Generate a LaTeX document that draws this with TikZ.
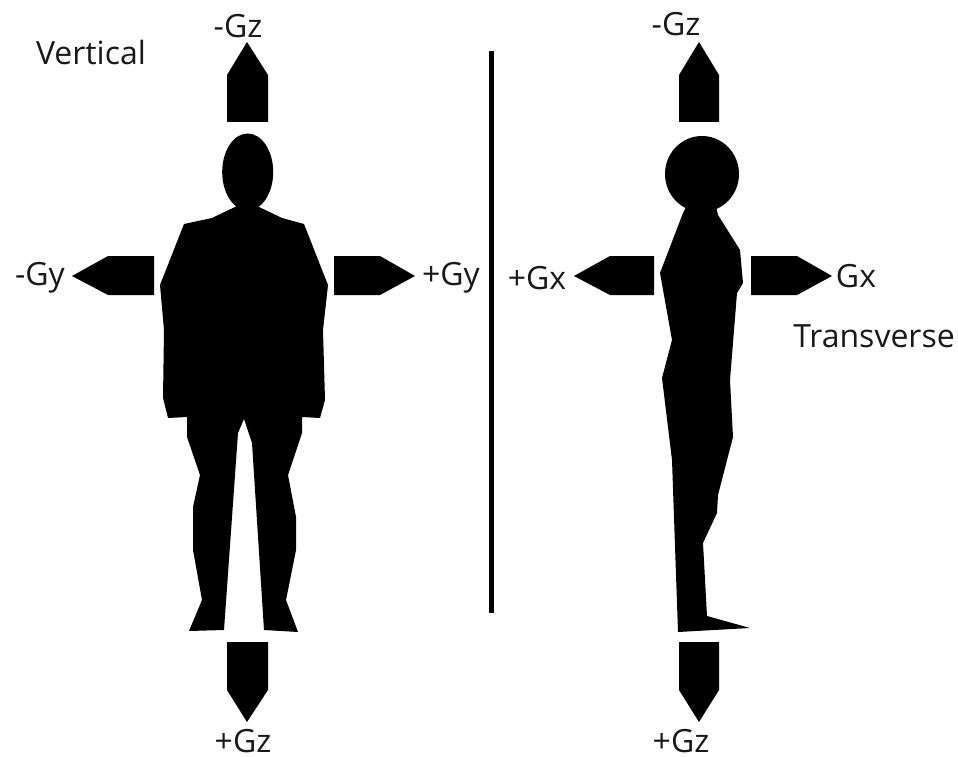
\documentclass[tikz,border=0pt]{standalone}
\usepackage{fontspec}
\setmainfont{Open Sans}
\tikzset{
  px/.style={x=1pt,y=-1pt},
  solid shape/.style={fill=black,draw=none},
  lbl/.style={inner sep=0pt,font=\fontsize{32}{35}\selectfont,text=black!90}
}
\begin{document}
\begin{tikzpicture}[px]
\useasboundingbox[fill=white] (0,0) rectangle (958,757);
% divider
\fill[black] (489,51) rectangle (493.5,613);
% arrows: left figure
\fill[solid shape] (227,122)--(268,122)--(268,75)--(247,42)--(227,75)--cycle;
\fill[solid shape] (227,642)--(268,642)--(268,690)--(247,722)--(227,690)--cycle;
\fill[solid shape] (154,256)--(154,295)--(108,295)--(72,276)--(108,256)--cycle;
\fill[solid shape] (334,256)--(334,295)--(380,295)--(415,276)--(380,256)--cycle;
% arrows: right figure
\fill[solid shape] (679,122)--(719,122)--(719,75)--(699,42)--(679,75)--cycle;
\fill[solid shape] (679,642)--(719,642)--(719,690)--(699,722)--(679,690)--cycle;
\fill[solid shape] (654,256)--(654,295)--(610,295)--(574,276)--(610,256)--cycle;
\fill[solid shape] (751,256)--(751,295)--(797,295)--(832,276)--(797,256)--cycle;
% front figure
\fill[solid shape] (247.7,172) ellipse [x radius=25.5,y radius=38.5];
\fill[solid shape] (237,206)--(212,218)--(184,224)--(160,285)--(164,330)--(163,398)--(168,418)--(187,417)
  --(187,437)--(200,475)--(193,507)--(193,550)--(202,600)--(189,631)--(224,630)--(238,433)--(244,419)
  --(252,443)--(264,630)--(298,632)--(286,600)--(296,550)--(296,517)--(288,475)--(302,433)--(302,417)
  --(320,418)--(325,400)--(323,330)--(328,285)--(304,224)--(282,218)--(257,206)--cycle;
% side figure
\fill[solid shape] (702,174) ellipse [x radius=37,y radius=38];
\fill[solid shape] (686,207)--(683,213)--(660,273)--(672,340)--(662,378)--(672,460)--(678,632)--(750,628)--(707,616)
  --(703,543)--(717,513)--(718,495)--(733,437)--(730,380)--(737,293)--(743,283)--(740,250)--(718,215)--(716,207)--cycle;
% labels
\node[lbl] (tl) at (238,26) {-Gz};
\node[lbl] (tr) at (676,24) {-Gz};
\node[lbl] (vert) at (91,53) {Vertical};
\node[lbl] (gyn) at (40,278) {-Gy};
\node[lbl] (gyp) at (451,278) {+Gy};
\node[lbl] (gxp) at (537,278) {+Gx};
\node[lbl] (gx) at (856,276) {Gx};
\node[lbl] (trans) at (874,336) {Transverse};
\node[lbl] (bl) at (243,741) {+Gz};
\node[lbl] (br) at (681,741) {+Gz};
\end{tikzpicture}
\end{document}
